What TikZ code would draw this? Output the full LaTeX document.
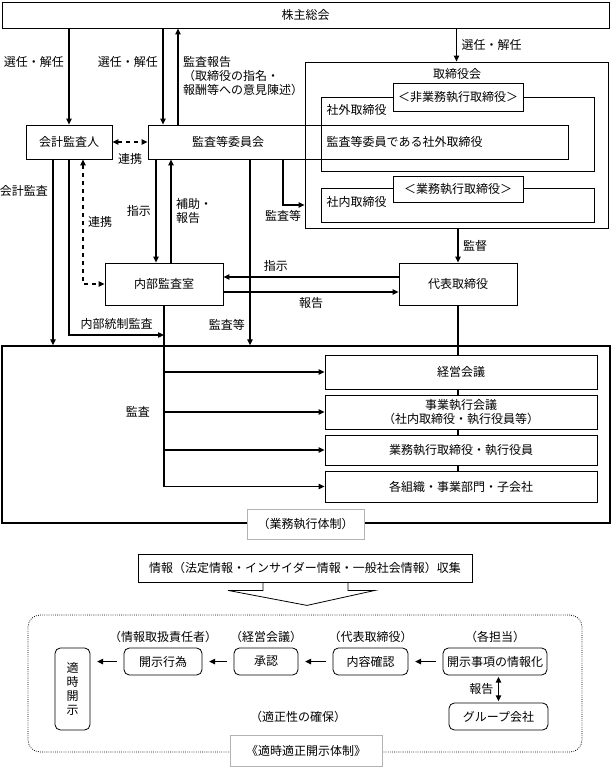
\documentclass[tikz,border=0pt]{standalone}
\usepackage{fontspec}
\newfontfamily\jp{Noto Sans CJK JP}
\usetikzlibrary{arrows.meta,positioning}

\begin{document}
\begin{tikzpicture}[x=0.75pt,y=-0.75pt,
  every node/.style={font=\jp\fontsize{9}{10.5}\selectfont},
  wh/.style 2 args={minimum width=#1*0.75pt,minimum height=#2*0.75pt},
  box/.style={draw,line width=0.6pt,inner sep=1pt},
  tagbox/.style={box,fill=white},
  capbox/.style={draw=gray!60,line width=0.6pt,fill=white,inner sep=1pt},
  rbox/.style={box,rounded corners=4pt},
  link/.style={line width=0.9pt,-{Triangle[length=4.5pt,width=4pt]}},
  dlink/.style={line width=0.9pt,{Triangle[length=4.5pt,width=4pt]}-{Triangle[length=4.5pt,width=4pt]}},
  flow/.style={line width=1.2pt,-{Triangle[length=4.5pt,width=4pt]},shorten <=5pt,shorten >=5pt},
  plain/.style={line width=0.9pt}]
\useasboundingbox (0,0) rectangle (611,767);
\coordinate (xa) at (53,0);
\coordinate (xc) at (83,0);
\coordinate (xd) at (156,0);
\coordinate (xe) at (163,0);
\coordinate (xf) at (171,0);
\coordinate (xg) at (178,0);
\coordinate (xh) at (250,0);
\coordinate (xi) at (283,0);
\coordinate (ictl) at (164,335);

\node[box,wh={607}{26}] (agm) at (305.5,15) {株主総会};
\node[box,wh={86}{34}] (kaikei) at (69,142) {会計監査人};
\node[box,wh={420}{34}] (iinkai) at (358,142) {};
\node (iinkailbl) at (228,142) {監査等委員会};
\node[anchor=west] (iinkaimem) at (322,142) {監査等委員である社外取締役};
\node[box,wh={303}{166}] (torishimari) at (456.5,145) {};
\node (torishimarilbl) at (457,74) {取締役会};
\node[box,wh={273}{74}] (shagai) at (457.5,134) {};
\node[anchor=west] (shagailbl) at (322,110) {社外取締役};
\node[tagbox,wh={130}{28}] (hishikko) at (458,97) {＜非業務執行取締役＞};
\node[box,wh={273}{34}] (shanai) at (457.5,205) {};
\node[anchor=west] (shanailbl) at (322,202) {社内取締役};
\node[tagbox,wh={130}{26}] (shikko) at (458,189) {＜業務執行取締役＞};
\node[box,wh={118}{42}] (naibu) at (164,284) {内部監査室};
\node[box,wh={118}{42}] (daihyo) at (458,284) {代表取締役};

\node[box,line width=1pt,wh={608}{177}] (gyomu) at (306,434.5) {};
\node[box,wh={272}{34}] (keiei) at (461,372) {経営会議};
\node[box,wh={272}{34},align=center] (jigyo) at (461,412) {事業執行会議\\（社内取締役・執行役員等）};
\node[box,wh={272}{30}] (gyomushikko) at (461,450) {業務執行取締役・執行役員};
\node[box,wh={272}{31}] (kakusoshiki) at (461,486.5) {各組織・事業部門・子会社};
\node[capbox,wh={117}{30}] (gyomulbl) at (305.5,524) {（業務執行体制）};

\draw[link] (agm.south -| kaikei) -- node[pos=0.35,left] (senA) {選任・解任} (kaikei.north);
\draw[link] (agm.south -| xe) -- node[pos=0.35,left] (senB) {選任・解任} (iinkai.north -| xe);
\draw[link] (iinkai.north -| xg) -- node[right,align=left] (hokokuA) {監査報告\\（取締役の指名・\\報酬等への意見陳述）} (agm.south -| xg);
\draw[link] (agm.south -| torishimari) -- node[right] (senC) {選任・解任} (torishimari.north);
\draw[dlink,dashed] (kaikei.east) -- node[below=5pt] (renkeiA) {連携} (iinkai.west |- kaikei.east);
\draw[link] (kaikei.south -| xa) -- node[pos=0.17,left] (kaikeikansa) {会計監査} (gyomu.north -| xa);
\draw[link] (kaikei.south) |- node[pos=0.75,above] (naibutosei) {内部統制監査} (ictl);
\draw[dlink,dashed] (kaikei.south -| xc) |- node[pos=0.25,right] (renkeiB) {連携} (naibu.west);
\draw[link] (iinkai.south -| xd) -- node[left] (shijiA) {指示} (naibu.north -| xd);
\draw[link] (naibu.north -| xf) -- node[right,align=left] (hojo) {補助・\\報告} (iinkai.south -| xf);
\draw[link] (iinkai.south -| xi) |- node[pos=0.5,below] (kansaA) {監査等} (torishimari.west |- shanai);
\draw[link] (iinkai.south -| xh) -- node[pos=0.89,left] (kansaB) {監査等} (gyomu.north -| xh);
\draw[link] ([yshift=5.25pt]daihyo.west) -- node[pos=0.7,above] (shijiB) {指示} ([yshift=5.25pt]naibu.east);
\draw[link] ([yshift=-6pt]naibu.east) -- node[below] (hokokuB) {報告} ([yshift=-6pt]daihyo.west);
\draw[link] (torishimari.south -| daihyo) -- node[right] (kantoku) {監督} (daihyo.north);

\draw[plain] (naibu.south) -- (naibu.south |- kakusoshiki.west);
\foreach \n in {keiei,jigyo,gyomushikko,kakusoshiki}
  \draw[link] (naibu.south |- \n.west) -- (\n.west);
\node[left=7pt] (kansaC) at (naibu.south |- jigyo.west) {監査};
\draw[plain] (daihyo.south) -- (keiei.north -| daihyo);
\foreach \a/\b in {keiei/jigyo,jigyo/gyomushikko,gyomushikko/kakusoshiki}
  \draw[plain] (\a.south -| daihyo) -- (\b.north -| daihyo);

\node[box,wh={334}{28}] (joho) at (305,568) {情報（法定情報・インサイダー情報・一般社会情報）収集};
\draw[line width=0.6pt] ([xshift=-31.5pt]joho.south) -- ++(0,8) -- ++(-35,0) -- ++(79,15) -- ++(68,-15) -- ++(-27,0) -- ++(0,-8);
\node[draw,densely dotted,line width=0.6pt,rounded corners=9pt,wh={554}{137}] (frame) at (305,683.5) {};
\node[capbox,wh={152}{31}] (kaijilbl) at (306,750.5) {《適時適正開示体制》};

\node[rbox,wh={104}{27}] (johoka) at (495,661.5) {開示事項の情報化};
\node[rbox,wh={75}{27}] (naiyo) at (370.5,661.5) {内容確認};
\node[rbox,wh={64}{27}] (shonin) at (266,661.5) {承認};
\node[rbox,wh={78}{27}] (kaijikoi) at (163,661.5) {開示行為};
\node[rbox,wh={35}{82},align=center] (tekiji) at (72.5,689) {適\\時\\開\\示};
\node[rbox,wh={99}{27}] (group) at (498.5,716.5) {グループ会社};
\node[above=0pt of johoka] (johokalbl) {（各担当）};
\node[above=0pt of naiyo] (naiyolbl) {（代表取締役）};
\node[above=0pt of shonin] (shoninlbl) {（経営会議）};
\node[above=0pt of kaijikoi] (kaijikoilbl) {（情報取扱責任者）};
\node (tekisei) at (298,717) {（適正性の確保）};

\draw[flow] (johoka) -- (naiyo);
\draw[flow] (naiyo) -- (shonin);
\draw[flow] (shonin) -- (kaijikoi);
\draw[flow] (kaijikoi) -- (kaijikoi -| tekiji.east);
\draw[dlink,line width=1.2pt,shorten <=1pt,shorten >=1pt] (group.north) -- node[left] (hokokuC) {報告} (group.north |- johoka.south);
\end{tikzpicture}
\end{document}
